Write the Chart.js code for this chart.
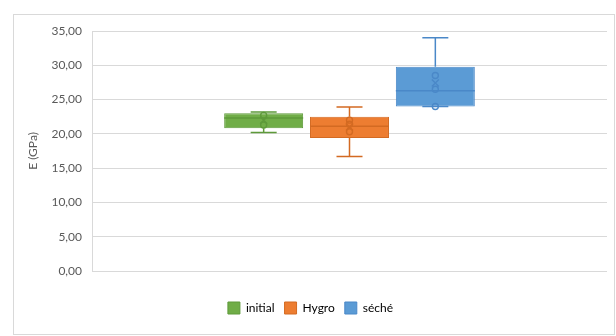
<!DOCTYPE html>
<html>
<head>
<meta charset="utf-8">
<script src="https://cdn.jsdelivr.net/npm/chart.js@4/dist/chart.umd.min.js"></script>
<style>
  html, body { margin: 0; padding: 0; background: #fff; }
  #wrap { width: 616px; height: 336px; }
</style>
</head>
<body>
<div id="wrap"><canvas id="boxChart"></canvas></div>
<script>
// Series (one box per series)
const seriesNames = ['initial', 'Hygro', 'séché'];
const q1 = [20.8, 19.4, 24.0];
const q3 = [23.0, 22.5, 29.8];
const medians = [22.3, 21.1, 26.3];
const whiskerMin = [20.2, 16.7, 24.0];
const whiskerMax = [23.2, 23.9, 34.0];
const means = [22.0, 21.0, 27.4];
const innerPoints = [
    [22.7, 21.3],
    [22.0, 21.4, 20.3],
    [28.5, 26.5, 24.0]
];
const yTicks = [0, 5, 10, 15, 20, 25, 30, 35];

const fillColors = ['#70AD47', '#ED7D31', '#5B9BD5'];
const lineColors = ['#5E9A3A', '#D36A22', '#4A88C8'];

// whiskers, median, mean and points drawn on top of the floating bars
const boxExtras = {
    id: 'boxExtras',
    beforeDraw(chart) {
        const ctx = chart.ctx;
        ctx.save();
        ctx.fillStyle = '#fff';
        ctx.fillRect(0, 0, chart.width, chart.height);
        ctx.strokeStyle = '#d9d9d9';
        ctx.lineWidth = 1;
        ctx.strokeRect(13.5, 14.5, 601, 320);
        ctx.restore();
    },
    afterDatasetsDraw(chart) {
        const ctx = chart.ctx;
        const y = chart.scales.y;
        chart.data.datasets.forEach((ds, i) => {
            const bar = chart.getDatasetMeta(i).data[0];
            const cx = bar.x;
            const half = bar.width / 2;
            const cap = 13;
            ctx.save();
            ctx.strokeStyle = lineColors[i];
            ctx.lineWidth = 1.5;
            // whiskers
            const yTop = y.getPixelForValue(q3[i]);
            const yBot = y.getPixelForValue(q1[i]);
            const yMax = y.getPixelForValue(whiskerMax[i]);
            const yMin = y.getPixelForValue(whiskerMin[i]);
            ctx.beginPath();
            ctx.moveTo(cx, yTop); ctx.lineTo(cx, yMax);
            ctx.moveTo(cx - cap, yMax); ctx.lineTo(cx + cap, yMax);
            ctx.moveTo(cx, yBot); ctx.lineTo(cx, yMin);
            ctx.moveTo(cx - cap, yMin); ctx.lineTo(cx + cap, yMin);
            ctx.stroke();
            // median
            const yMed = y.getPixelForValue(medians[i]);
            ctx.beginPath();
            ctx.moveTo(cx - half, yMed); ctx.lineTo(cx + half, yMed);
            ctx.stroke();
            // mean marker
            const yMean = y.getPixelForValue(means[i]);
            ctx.lineWidth = 1.4;
            ctx.beginPath();
            ctx.moveTo(cx - 3.5, yMean - 3.5); ctx.lineTo(cx + 3.5, yMean + 3.5);
            ctx.moveTo(cx + 3.5, yMean - 3.5); ctx.lineTo(cx - 3.5, yMean + 3.5);
            ctx.stroke();
            // inner points
            innerPoints[i].forEach(v => {
                ctx.beginPath();
                ctx.arc(cx, y.getPixelForValue(v), 3, 0, Math.PI * 2);
                ctx.stroke();
            });
            ctx.restore();
        });
    }
};

const ctx = document.getElementById('boxChart').getContext('2d');
new Chart(ctx, {
    type: 'bar',
    data: {
        labels: [''],
        datasets: seriesNames.map((name, i) => ({
            label: name,
            data: [[q1[i], q3[i]]],
            backgroundColor: fillColors[i],
            borderColor: lineColors[i],
            borderWidth: 1,
            borderSkipped: false,
            categoryPercentage: 0.5,
            barPercentage: 0.92
        }))
    },
    plugins: [boxExtras],
    options: {
        responsive: true,
        maintainAspectRatio: false,
        animation: false,
        layout: { padding: { left: 14, right: 9, top: 31, bottom: 12 } },
        plugins: {
            tooltip: { enabled: false },
            legend: {
                position: 'bottom',
                labels: {
                    boxWidth: 12,
                    boxHeight: 12,
                    padding: 10,
                    color: '#595959',
                    font: { family: 'Lato', size: 12 },
                    generateLabels(chart) {
                        return chart.data.datasets.map((ds, i) => ({
                            text: ds.label,
                            fillStyle: fillColors[i],
                            strokeStyle: lineColors[i],
                            lineWidth: 1,
                            datasetIndex: i
                        }));
                    }
                }
            }
        },
        scales: {
            x: {
                grid: { display: false },
                border: { display: false },
                ticks: { display: false },
                afterFit(s) { s.height = 21; }
            },
            y: {
                min: 0,
                max: 35,
                afterBuildTicks(s) { s.ticks = yTicks.map(v => ({ value: v })); },
                afterFit(s) { s.width = 78; },
                grid: { color: '#d9d9d9', drawTicks: false },
                border: { display: true, color: '#d9d9d9' },
                ticks: {
                    padding: 10,
                    color: '#595959',
                    font: { family: 'Lato', size: 12 },
                    callback: v => v.toFixed(2).replace('.', ',')
                },
                title: {
                    display: true,
                    text: 'E (GPa)',
                    color: '#595959',
                    font: { family: 'Lato', size: 12 },
                    padding: { top: 12, bottom: 0 }
                }
            }
        }
    }
});
</script>
</body>
</html>
